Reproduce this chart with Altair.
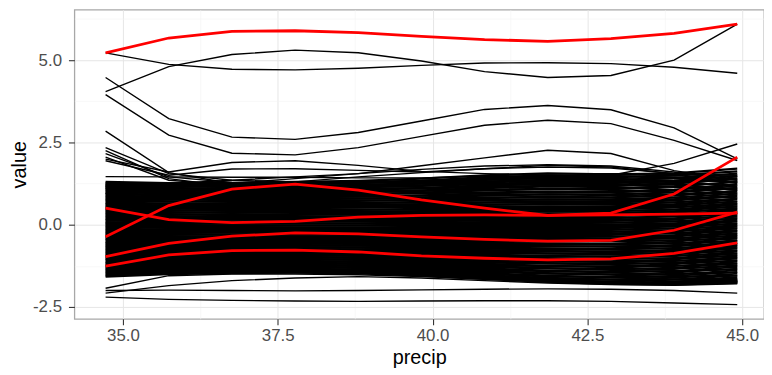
import altair as alt
import pandas as pd

PRECIP = [34.72, 35.74, 36.76, 37.78, 38.80, 39.82, 40.84, 41.86, 42.88, 43.90, 44.92]

RED_CURVES = [
    [5.22, 5.67, 5.87, 5.89, 5.83, 5.72, 5.62, 5.57, 5.65, 5.81, 6.09],
    [-0.37, 0.58, 1.08, 1.23, 1.05, 0.75, 0.50, 0.28, 0.35, 0.93, 2.05],
    [0.50, 0.15, 0.06, 0.10, 0.23, 0.28, 0.30, 0.28, 0.30, 0.32, 0.35],
    [-0.97, -0.57, -0.35, -0.25, -0.28, -0.37, -0.45, -0.50, -0.48, -0.17, 0.38],
    [-1.26, -0.92, -0.79, -0.77, -0.83, -0.95, -1.02, -1.07, -1.04, -0.87, -0.55],
]

OUTLIER_CURVES = [
    [5.22, 4.87, 4.72, 4.70, 4.75, 4.84, 4.91, 4.92, 4.89, 4.78, 4.60],
    [4.04, 4.80, 5.17, 5.30, 5.22, 4.97, 4.65, 4.47, 4.53, 5.00, 6.09],
    [4.47, 3.22, 2.66, 2.59, 2.80, 3.15, 3.50, 3.62, 3.49, 2.94, 2.00],
    [3.95, 2.72, 2.17, 2.12, 2.34, 2.68, 3.02, 3.17, 3.07, 2.56, 1.95],
    [1.15, 1.25, 1.35, 1.45, 1.55, 1.79, 2.03, 2.26, 2.16, 1.64, 1.35],
    [1.20, 1.25, 1.25, 1.28, 1.30, 1.35, 1.40, 1.45, 1.50, 1.86, 2.45],
    [2.84, 1.58, 1.25, 1.20, 1.18, 1.20, 1.25, 1.30, 1.28, 1.20, 1.10],
    [2.34, 1.55, 1.35, 1.30, 1.28, 1.30, 1.36, 1.40, 1.38, 1.30, 1.20],
    [2.25, 1.40, 1.15, 1.10, 1.10, 1.12, 1.18, 1.22, 1.20, 1.15, 1.05],
    [2.16, 1.45, 1.28, 1.25, 1.26, 1.30, 1.38, 1.42, 1.40, 1.35, 1.30],
    [2.05, 1.35, 1.20, 1.18, 1.20, 1.25, 1.32, 1.36, 1.34, 1.28, 1.45],
    [1.99, 1.60, 1.89, 1.94, 1.80, 1.62, 1.55, 1.50, 1.48, 1.45, 1.40],
    [1.94, 1.50, 1.69, 1.70, 1.65, 1.60, 1.70, 1.80, 1.75, 1.55, 1.45],
    [1.46, 1.45, 1.44, 1.44, 1.42, 1.42, 1.48, 1.55, 1.55, 1.52, 1.50],
    [1.10, 1.12, 1.25, 1.40, 1.55, 1.68, 1.78, 1.82, 1.78, 1.60, 1.35],
    [0.95, 1.00, 1.15, 1.30, 1.45, 1.58, 1.70, 1.75, 1.72, 1.55, 1.25],
    [-2.20, -2.27, -2.30, -2.32, -2.33, -2.32, -2.31, -2.31, -2.33, -2.38, -2.43],
    [-2.00, -1.99, -2.00, -2.01, -2.00, -1.98, -1.96, -1.95, -1.96, -2.00, -2.08],
    [-1.93, -1.55, -1.50, -1.50, -1.52, -1.58, -1.66, -1.72, -1.76, -1.80, -1.78],
    [-2.08, -1.85, -1.70, -1.62, -1.58, -1.62, -1.70, -1.77, -1.82, -1.84, -1.80],
]

BAND_CURVES = [
    [1.30, 1.26, 1.27, 1.30, 1.33, 1.40, 1.50, 1.56, 1.53, 1.56, 1.70],
    [1.27, 1.22, 1.22, 1.24, 1.27, 1.33, 1.44, 1.50, 1.48, 1.42, 1.30],
    [1.24, 1.20, 1.21, 1.24, 1.27, 1.32, 1.40, 1.46, 1.44, 1.50, 1.62],
    [1.21, 1.16, 1.15, 1.17, 1.20, 1.26, 1.36, 1.42, 1.40, 1.32, 1.15],
    [1.18, 1.15, 1.16, 1.18, 1.20, 1.25, 1.31, 1.36, 1.35, 1.42, 1.55],
    [1.15, 1.10, 1.08, 1.10, 1.13, 1.19, 1.28, 1.34, 1.32, 1.24, 1.05],
    [1.12, 1.09, 1.10, 1.12, 1.14, 1.18, 1.23, 1.27, 1.26, 1.34, 1.48],
    [1.08, 1.04, 1.02, 1.03, 1.06, 1.11, 1.19, 1.25, 1.23, 1.15, 0.95],
    [1.05, 1.02, 1.04, 1.06, 1.07, 1.10, 1.14, 1.18, 1.17, 1.25, 1.40],
    [1.02, 0.97, 0.95, 0.96, 0.99, 1.04, 1.11, 1.16, 1.14, 1.06, 0.88],
    [0.98, 0.96, 0.98, 1.00, 1.01, 1.03, 1.06, 1.09, 1.08, 1.16, 1.30],
    [0.95, 0.90, 0.88, 0.89, 0.92, 0.97, 1.04, 1.08, 1.06, 0.98, 0.80],
    [0.92, 0.90, 0.92, 0.93, 0.94, 0.96, 0.98, 1.00, 0.99, 1.06, 1.22],
    [0.88, 0.84, 0.82, 0.83, 0.85, 0.89, 0.95, 0.99, 0.97, 0.90, 0.70],
    [0.85, 0.83, 0.85, 0.87, 0.87, 0.88, 0.90, 0.92, 0.91, 0.98, 1.12],
    [0.82, 0.78, 0.76, 0.77, 0.79, 0.83, 0.88, 0.92, 0.90, 0.82, 0.62],
    [0.78, 0.76, 0.78, 0.80, 0.80, 0.80, 0.82, 0.84, 0.83, 0.90, 1.02],
    [0.75, 0.71, 0.69, 0.70, 0.72, 0.76, 0.81, 0.84, 0.82, 0.74, 0.55],
    [0.72, 0.70, 0.72, 0.74, 0.74, 0.74, 0.75, 0.76, 0.76, 0.82, 0.94],
    [0.68, 0.64, 0.62, 0.63, 0.65, 0.69, 0.74, 0.77, 0.75, 0.67, 0.48],
    [0.65, 0.63, 0.65, 0.67, 0.67, 0.67, 0.68, 0.69, 0.69, 0.75, 0.86],
    [0.62, 0.58, 0.56, 0.57, 0.59, 0.62, 0.67, 0.70, 0.68, 0.60, 0.40],
    [0.58, 0.56, 0.58, 0.60, 0.60, 0.60, 0.61, 0.62, 0.62, 0.68, 0.78],
    [0.55, 0.51, 0.49, 0.50, 0.52, 0.55, 0.60, 0.63, 0.61, 0.53, 0.32],
    [0.52, 0.50, 0.52, 0.53, 0.53, 0.53, 0.54, 0.55, 0.55, 0.60, 0.70],
    [0.48, 0.44, 0.42, 0.43, 0.45, 0.48, 0.52, 0.55, 0.53, 0.46, 0.25],
    [0.45, 0.43, 0.45, 0.46, 0.46, 0.46, 0.47, 0.48, 0.48, 0.53, 0.62],
    [0.42, 0.38, 0.36, 0.37, 0.39, 0.41, 0.45, 0.48, 0.46, 0.39, 0.18],
    [0.38, 0.36, 0.38, 0.39, 0.39, 0.39, 0.40, 0.41, 0.41, 0.46, 0.55],
    [0.35, 0.31, 0.29, 0.30, 0.32, 0.34, 0.38, 0.41, 0.39, 0.32, 0.10],
    [0.32, 0.30, 0.31, 0.32, 0.32, 0.32, 0.33, 0.34, 0.34, 0.39, 0.48],
    [0.28, 0.24, 0.22, 0.23, 0.25, 0.27, 0.31, 0.33, 0.31, 0.25, 0.02],
    [0.25, 0.23, 0.24, 0.25, 0.25, 0.25, 0.26, 0.27, 0.27, 0.32, 0.40],
    [0.22, 0.18, 0.16, 0.16, 0.18, 0.20, 0.23, 0.25, 0.23, 0.17, -0.05],
    [0.18, 0.16, 0.17, 0.18, 0.18, 0.18, 0.19, 0.20, 0.20, 0.25, 0.32],
    [0.15, 0.11, 0.09, 0.09, 0.11, 0.13, 0.16, 0.18, 0.16, 0.10, -0.12],
    [0.12, 0.10, 0.10, 0.11, 0.11, 0.11, 0.12, 0.13, 0.13, 0.18, 0.25],
    [0.08, 0.05, 0.03, 0.03, 0.04, 0.06, 0.08, 0.10, 0.08, 0.02, -0.20],
    [0.05, 0.03, 0.03, 0.04, 0.04, 0.04, 0.05, 0.06, 0.06, 0.10, 0.18],
    [0.02, -0.01, -0.03, -0.03, -0.02, 0.00, 0.02, 0.03, 0.01, -0.05, -0.28],
    [-0.02, -0.04, -0.04, -0.03, -0.03, -0.03, -0.02, -0.01, -0.01, 0.03, 0.10],
    [-0.05, -0.08, -0.10, -0.10, -0.09, -0.07, -0.05, -0.04, -0.06, -0.12, -0.35],
    [-0.08, -0.10, -0.10, -0.10, -0.10, -0.10, -0.09, -0.08, -0.08, -0.04, 0.02],
    [-0.12, -0.15, -0.17, -0.17, -0.16, -0.14, -0.12, -0.11, -0.13, -0.20, -0.42],
    [-0.15, -0.17, -0.17, -0.17, -0.17, -0.17, -0.16, -0.15, -0.15, -0.11, -0.05],
    [-0.18, -0.21, -0.23, -0.23, -0.22, -0.21, -0.19, -0.18, -0.20, -0.27, -0.50],
    [-0.22, -0.24, -0.24, -0.24, -0.24, -0.24, -0.23, -0.22, -0.22, -0.18, -0.12],
    [-0.25, -0.28, -0.30, -0.30, -0.29, -0.28, -0.26, -0.26, -0.28, -0.35, -0.58],
    [-0.28, -0.30, -0.30, -0.30, -0.30, -0.30, -0.30, -0.29, -0.29, -0.26, -0.20],
    [-0.32, -0.35, -0.36, -0.36, -0.35, -0.34, -0.33, -0.33, -0.35, -0.42, -0.65],
    [-0.35, -0.37, -0.37, -0.37, -0.37, -0.37, -0.37, -0.36, -0.36, -0.33, -0.28],
    [-0.38, -0.41, -0.42, -0.42, -0.41, -0.41, -0.40, -0.40, -0.42, -0.50, -0.72],
    [-0.42, -0.44, -0.44, -0.44, -0.44, -0.44, -0.44, -0.44, -0.44, -0.41, -0.35],
    [-0.45, -0.48, -0.48, -0.48, -0.48, -0.48, -0.48, -0.48, -0.50, -0.58, -0.80],
    [-0.48, -0.50, -0.50, -0.50, -0.50, -0.51, -0.51, -0.51, -0.51, -0.48, -0.42],
    [-0.52, -0.54, -0.53, -0.52, -0.53, -0.55, -0.56, -0.57, -0.59, -0.66, -0.88],
    [-0.55, -0.56, -0.56, -0.56, -0.57, -0.58, -0.59, -0.59, -0.59, -0.56, -0.50],
    [-0.58, -0.60, -0.58, -0.57, -0.58, -0.61, -0.63, -0.65, -0.67, -0.74, -0.95],
    [-0.62, -0.63, -0.62, -0.62, -0.63, -0.65, -0.66, -0.66, -0.66, -0.64, -0.58],
    [-0.65, -0.66, -0.64, -0.63, -0.64, -0.67, -0.70, -0.72, -0.75, -0.82, -1.02],
    [-0.68, -0.69, -0.68, -0.68, -0.69, -0.71, -0.73, -0.74, -0.74, -0.71, -0.65],
    [-0.72, -0.72, -0.70, -0.69, -0.70, -0.73, -0.77, -0.80, -0.83, -0.90, -1.10],
    [-0.75, -0.75, -0.74, -0.74, -0.75, -0.77, -0.80, -0.81, -0.81, -0.79, -0.72],
    [-0.78, -0.78, -0.76, -0.75, -0.76, -0.80, -0.84, -0.87, -0.90, -0.98, -1.18],
    [-0.82, -0.81, -0.80, -0.80, -0.81, -0.84, -0.87, -0.88, -0.89, -0.86, -0.80],
    [-0.85, -0.84, -0.82, -0.81, -0.82, -0.86, -0.91, -0.95, -0.98, -1.06, -1.25],
    [-0.88, -0.87, -0.86, -0.86, -0.87, -0.90, -0.94, -0.96, -0.96, -0.94, -0.88],
    [-0.92, -0.90, -0.88, -0.87, -0.89, -0.93, -0.98, -1.02, -1.06, -1.14, -1.32],
    [-0.95, -0.93, -0.92, -0.92, -0.93, -0.97, -1.01, -1.03, -1.04, -1.02, -0.95],
    [-0.98, -0.96, -0.94, -0.93, -0.95, -1.00, -1.05, -1.10, -1.14, -1.22, -1.40],
    [-1.02, -1.00, -0.98, -0.98, -1.00, -1.03, -1.08, -1.11, -1.12, -1.10, -1.02],
    [-1.05, -1.02, -1.00, -0.99, -1.01, -1.06, -1.12, -1.17, -1.21, -1.30, -1.47],
    [-1.08, -1.05, -1.04, -1.04, -1.06, -1.10, -1.15, -1.18, -1.19, -1.17, -1.10],
    [-1.12, -1.08, -1.06, -1.05, -1.07, -1.13, -1.19, -1.25, -1.29, -1.38, -1.55],
    [-1.15, -1.11, -1.10, -1.10, -1.12, -1.16, -1.22, -1.26, -1.27, -1.25, -1.18],
    [-1.18, -1.14, -1.12, -1.11, -1.13, -1.19, -1.26, -1.32, -1.37, -1.45, -1.62],
    [-1.22, -1.17, -1.16, -1.16, -1.18, -1.23, -1.29, -1.33, -1.35, -1.33, -1.26],
    [-1.25, -1.20, -1.18, -1.17, -1.19, -1.26, -1.33, -1.40, -1.45, -1.53, -1.68],
    [-1.28, -1.24, -1.22, -1.22, -1.24, -1.29, -1.36, -1.41, -1.43, -1.41, -1.35],
    [-1.32, -1.27, -1.24, -1.23, -1.25, -1.32, -1.40, -1.47, -1.52, -1.60, -1.72],
    [-1.35, -1.30, -1.28, -1.28, -1.30, -1.36, -1.43, -1.49, -1.51, -1.50, -1.45],
    [-1.38, -1.33, -1.30, -1.29, -1.31, -1.38, -1.47, -1.55, -1.60, -1.66, -1.75],
    [-1.42, -1.36, -1.34, -1.34, -1.36, -1.42, -1.50, -1.57, -1.59, -1.58, -1.55],
    [-1.45, -1.40, -1.37, -1.36, -1.38, -1.45, -1.54, -1.62, -1.67, -1.72, -1.74],
    [-1.48, -1.42, -1.40, -1.40, -1.42, -1.48, -1.57, -1.64, -1.67, -1.66, -1.65],
    [-1.52, -1.45, -1.43, -1.42, -1.44, -1.51, -1.60, -1.68, -1.73, -1.76, -1.72],
    [-1.55, -1.47, -1.45, -1.44, -1.46, -1.53, -1.62, -1.70, -1.75, -1.78, -1.70],
    [-1.58, -1.50, -1.47, -1.46, -1.48, -1.55, -1.65, -1.74, -1.80, -1.82, -1.76],
]

X_TICKS = [35.0, 36.25, 37.5, 38.75, 40.0, 41.25, 42.5, 43.75, 45.0]
Y_TICKS = [-2.5, -1.25, 0.0, 1.25, 2.5, 3.75, 5.0, 6.25]
X_DOMAIN = [34.216, 45.352]
Y_DOMAIN = [-2.86, 6.53]

rows = []
cid = 0
for grp, curves in (("outlier", OUTLIER_CURVES), ("band", BAND_CURVES), ("red", RED_CURVES)):
    for curve in curves:
        for x, v in zip(PRECIP, curve):
            rows.append({"id": cid, "precip": x, "value": v, "grp": grp})
        cid += 1
df = pd.DataFrame(rows)

MAJOR = "abs(datum.value / 2.5 - round(datum.value / 2.5)) < 0.001"
LABEL = (f"({MAJOR}) ? ((datum.value < 0 ? '-' : '') + format(abs(datum.value), '.1f')) : ''")


def make_axis(title, values):
    return alt.Axis(
        title=title,
        values=values,
        labelExpr=LABEL,
        grid=True,
        gridColor={"condition": {"test": MAJOR, "value": "#e6e6e6"}, "value": "#f4f4f4"},
        gridWidth={"condition": {"test": MAJOR, "value": 1.0}, "value": 0.6},
        tickOpacity={"condition": {"test": MAJOR, "value": 1}, "value": 0},
        tickColor="#333333",
        tickSize=6,
        tickWidth=1.1,
        domain=False,
        labelFont="Liberation Sans",
        labelFontSize=17,
        labelColor="#4d4d4d",
        titleFont="Liberation Sans",
        titleFontSize=20,
        titleFontWeight="normal",
        titleColor="#000000",
    )


x_enc = alt.X("precip:Q", scale=alt.Scale(domain=X_DOMAIN, nice=False, zero=False),
              axis=make_axis("precip", X_TICKS))
y_enc = alt.Y("value:Q", scale=alt.Scale(domain=Y_DOMAIN, nice=False, zero=False),
              axis=make_axis("value", Y_TICKS))

base = alt.Chart(df)
band = base.transform_filter(alt.datum.grp == "band").mark_line(
    color="#000000", strokeWidth=2.3
).encode(x=x_enc, y=y_enc, detail="id:N")
outl = base.transform_filter(alt.datum.grp == "outlier").mark_line(
    color="#000000", strokeWidth=1.4
).encode(x=x_enc, y=y_enc, detail="id:N")
red = base.transform_filter(alt.datum.grp == "red").mark_line(
    color="#ff0000", strokeWidth=2.8
).encode(x=x_enc, y=y_enc, detail="id:N")

chart = alt.layer(band, outl, red).properties(
    width=696, height=312,
    autosize=alt.AutoSizeParams(type="none"),
    padding={"left": 67, "top": 0, "right": 0, "bottom": 55},
).configure_view(stroke="#a8a8a8", strokeWidth=1.3).configure_axisX(
    labelPadding=3, titlePadding=4
).configure_axisY(
    labelPadding=7, titlePadding=3
)

chart.save("out.html", embed_options={"renderer": "svg", "actions": False})
